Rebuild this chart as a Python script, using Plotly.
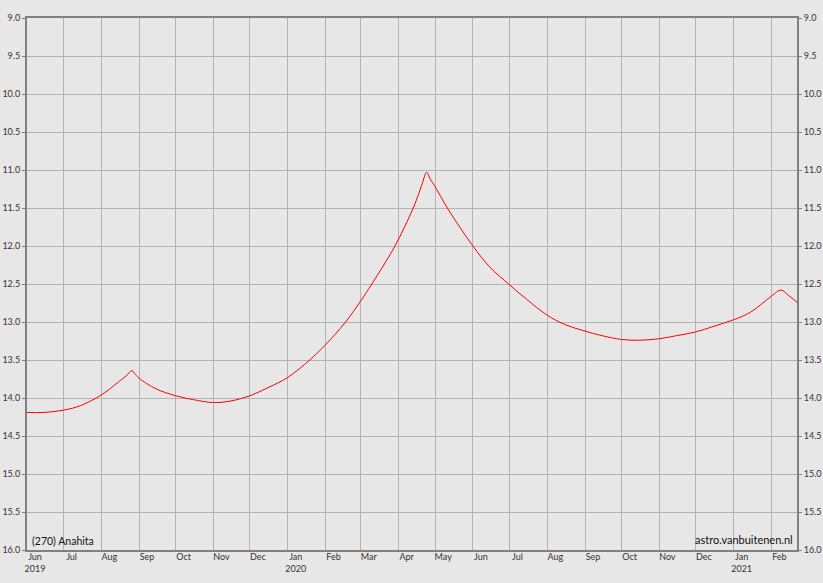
import plotly.graph_objects as go

# ---- data ----
dates = [
    "2019-06-01", "2019-06-15", "2019-07-01", "2019-07-15", "2019-08-01",
    "2019-08-15", "2019-08-22", "2019-08-26", "2019-08-29", "2019-09-01",
    "2019-09-15", "2019-10-01", "2019-10-15", "2019-11-01", "2019-11-15",
    "2019-12-01", "2019-12-15", "2020-01-01", "2020-01-19", "2020-02-01",
    "2020-02-17", "2020-03-01", "2020-03-10", "2020-03-29", "2020-04-13",
    "2020-04-20", "2020-04-24", "2020-04-27", "2020-05-01", "2020-05-11",
    "2020-06-01", "2020-06-15", "2020-07-01", "2020-07-15", "2020-08-01",
    "2020-08-15", "2020-09-01", "2020-09-15", "2020-10-01", "2020-10-15",
    "2020-11-01", "2020-11-15", "2020-12-01", "2020-12-15", "2021-01-01",
    "2021-01-15", "2021-02-01", "2021-02-09", "2021-02-15", "2021-02-22",
]
magnitudes = [
    14.19, 14.19, 14.16, 14.10, 13.96,
    13.79, 13.70, 13.64, 13.69, 13.74,
    13.88, 13.97, 14.02, 14.06, 14.04,
    13.97, 13.87, 13.73, 13.50, 13.30,
    13.01, 12.72, 12.50, 12.00, 11.50,
    11.20, 11.03, 11.12, 11.22, 11.50,
    12.00, 12.28, 12.51, 12.70, 12.91,
    13.03, 13.12, 13.18, 13.23, 13.24,
    13.22, 13.18, 13.13, 13.06, 12.97,
    12.87, 12.66, 12.58, 12.65, 12.74,
]

tick_dates = [
    "2019-06-01", "2019-07-01", "2019-08-01", "2019-09-01", "2019-10-01",
    "2019-11-01", "2019-12-01", "2020-01-01", "2020-02-01", "2020-03-01",
    "2020-04-01", "2020-05-01", "2020-06-01", "2020-07-01", "2020-08-01",
    "2020-09-01", "2020-10-01", "2020-11-01", "2020-12-01", "2021-01-01",
    "2021-02-01",
]
tick_labels = [
    "Jun<br>2019", "Jul", "Aug", "Sep", "Oct", "Nov", "Dec", "Jan<br>2020",
    "Feb", "Mar", "Apr", "May", "Jun", "Jul", "Aug", "Sep", "Oct", "Nov",
    "Dec", "Jan<br>2021", "Feb",
]
y_ticks = [9.0 + 0.5 * i for i in range(15)]
title_text = "(270) Anahita"
credit_text = "astro.vanbuitenen.nl"

BG = "#e7e7e7"
GRID = "#b3b3b3"
AXIS = "#808080"
FONT = "Lato, 'Open Sans', sans-serif"

fig = go.Figure()
fig.add_trace(go.Scatter(
    x=dates, y=magnitudes, mode="lines",
    line=dict(color="#ff0000", width=1, shape="spline", smoothing=1.0),
    hoverinfo="x+y", showlegend=False,
))
# invisible trace for right axis
fig.add_trace(go.Scatter(x=[dates[0]], y=[magnitudes[0]], yaxis="y2",
                         mode="markers", marker=dict(opacity=0),
                         showlegend=False, hoverinfo="skip"))

yax_common = dict(
    range=[16, 9], tickvals=y_ticks, tickformat=".1f",
    showgrid=True, gridcolor=GRID, gridwidth=1,
    zeroline=False, ticks="outside", ticklen=3, tickcolor=AXIS,
    tickfont=dict(family=FONT, size=9, color="#333333"),
    showline=True, linecolor=AXIS, linewidth=2, automargin=False,
)

fig.update_layout(
    width=823, height=583,
    paper_bgcolor=BG, plot_bgcolor=BG,
    margin=dict(l=27, r=26, t=18, b=33),
    xaxis=dict(
        range=["2019-06-01", "2021-02-22"],
        tickmode="array", tickvals=tick_dates, ticktext=tick_labels,
        showgrid=True, gridcolor=GRID, gridwidth=1,
        ticks="", ticklabelshift=8, ticklabelstandoff=-3,
        tickfont=dict(family=FONT, size=9, color="#333333"),
        showline=True, linecolor=AXIS, linewidth=2, mirror=True,
        zeroline=False, automargin=False,
    ),
    yaxis=dict(**yax_common, side="left"),
    yaxis2=dict(**yax_common, side="right", overlaying="y"),
    annotations=[
        dict(text=title_text, xref="paper", yref="paper", x=0, y=0,
             xanchor="left", yanchor="bottom", xshift=3, yshift=1,
             showarrow=False, font=dict(family=FONT, size=10.5, color="#111111")),
        dict(text=credit_text, xref="paper", yref="paper", x=1, y=0,
             xanchor="right", yanchor="bottom", xshift=-2, yshift=2,
             showarrow=False, font=dict(family=FONT, size=11, color="#111111")),
    ],
)

fig.write_html(
    "out.html",
    config={"displayModeBar": False},
    post_script="document.body.style.margin='0';document.body.style.overflow='hidden';",
)
